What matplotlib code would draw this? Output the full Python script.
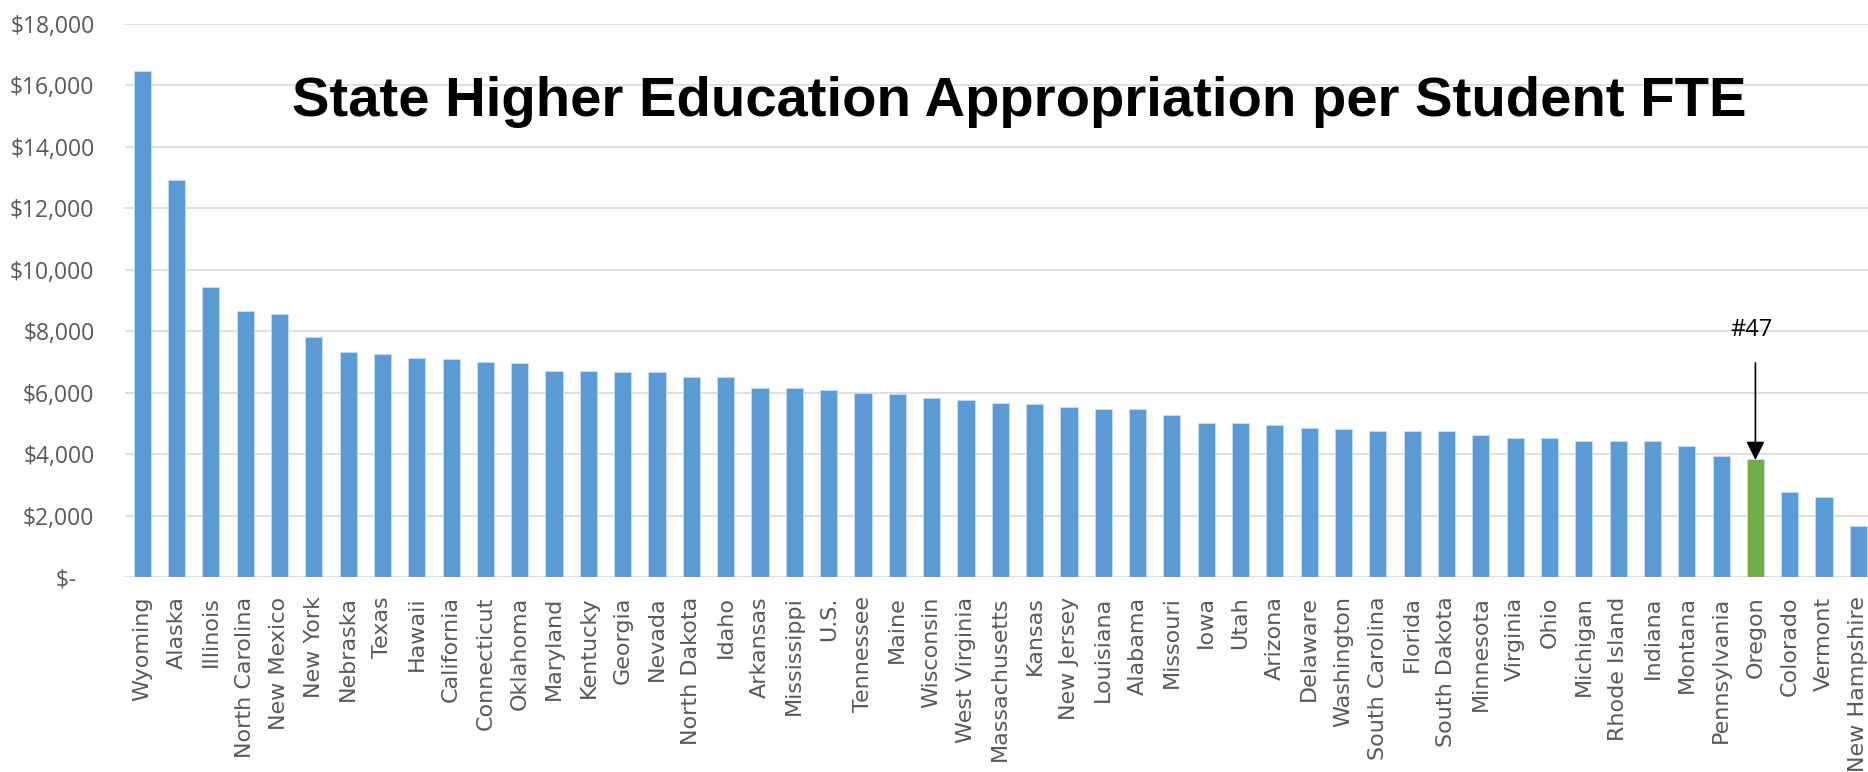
import numpy as np
import matplotlib
matplotlib.use("Agg")
import matplotlib.pyplot as plt
from matplotlib.ticker import FuncFormatter

states = ['Wyoming', 'Alaska', 'Illinois', 'North Carolina', 'New Mexico', 'New York',
          'Nebraska', 'Texas', 'Hawaii', 'California', 'Connecticut', 'Oklahoma',
          'Maryland', 'Kentucky', 'Georgia', 'Nevada', 'North Dakota', 'Idaho',
          'Arkansas', 'Mississippi', 'U.S.', 'Tennessee', 'Maine', 'Wisconsin',
          'West Virginia', 'Massachusetts', 'Kansas', 'New Jersey', 'Louisiana',
          'Alabama', 'Missouri', 'Iowa', 'Utah', 'Arizona', 'Delaware', 'Washington',
          'South Carolina', 'Florida', 'South Dakota', 'Minnesota', 'Virginia', 'Ohio',
          'Michigan', 'Rhode Island', 'Indiana', 'Montana', 'Pennsylvania', 'Oregon',
          'Colorado', 'Vermont', 'New Hampshire']

# appropriation per student FTE ($)
values = [16480, 12910, 9430, 8670, 8570, 7800, 7335, 7250, 7140, 7100, 7010, 6955,
          6715, 6715, 6660, 6660, 6520, 6520, 6140, 6140, 6100, 6000, 5960, 5820,
          5750, 5665, 5620, 5525, 5470, 5470, 5285, 5000, 5000, 4950, 4860, 4805,
          4765, 4765, 4765, 4610, 4515, 4515, 4425, 4415, 4415, 4275, 3950, 3840,
          2755, 2615, 1660]

highlight = 'Oregon'
rank_label = '#47'

blue = '#5B9BD5'
green = '#70AD47'
grey_txt = '#595959'

colors = [green if s == highlight else blue for s in states]
x = np.arange(len(states))

fig = plt.figure(figsize=(18.68, 7.72), dpi=100)
ax = fig.add_axes([125 / 1868, 195 / 772, 1 - 125 / 1868, 553 / 772])

ax.bar(x, values, width=0.5, color=colors, edgecolor='#c9ddf0', linewidth=0.6, zorder=3)

ax.set_ylim(0, 18000)
ax.set_xlim(-0.5, 50.28)
ax.set_yticks(np.arange(0, 18001, 2000))
ax.yaxis.set_major_formatter(FuncFormatter(lambda v, p: '$-   ' if v == 0 else '${:,.0f}'.format(v)))
ax.set_xticks(x)
ax.set_xticklabels(states, rotation=90, fontsize=16, color=grey_txt, family='DejaVu Sans')
for lab in ax.get_yticklabels():
    lab.set_fontsize(16.5)
    lab.set_color(grey_txt)
    lab.set_family('Open Sans')
ax.tick_params(axis='both', length=0)
ax.tick_params(axis='y', pad=22)
ax.tick_params(axis='x', pad=14)

ax.grid(axis='y', color='#D9D9D9', linewidth=1.2, zorder=0)
for sp in ax.spines.values():
    sp.set_visible(False)

# Oregon arrow
i = states.index(highlight)
ax.annotate('', xy=(i, values[i] - 120), xytext=(i, 7060),
            arrowprops=dict(arrowstyle='-|>', mutation_scale=28, lw=1.2, color='black'),
            zorder=5)
ax.text(i - 0.12, 8040, rank_label, ha='center', va='center', fontsize=17,
        family='Open Sans', color='black')

fig.text(1019 / 1868, 1 - 102 / 772, 'State Higher Education Appropriation per Student FTE',
         ha='center', va='center', fontsize=40.5, fontweight='bold', family='Liberation Sans')

fig.savefig('out.png', dpi=100)
